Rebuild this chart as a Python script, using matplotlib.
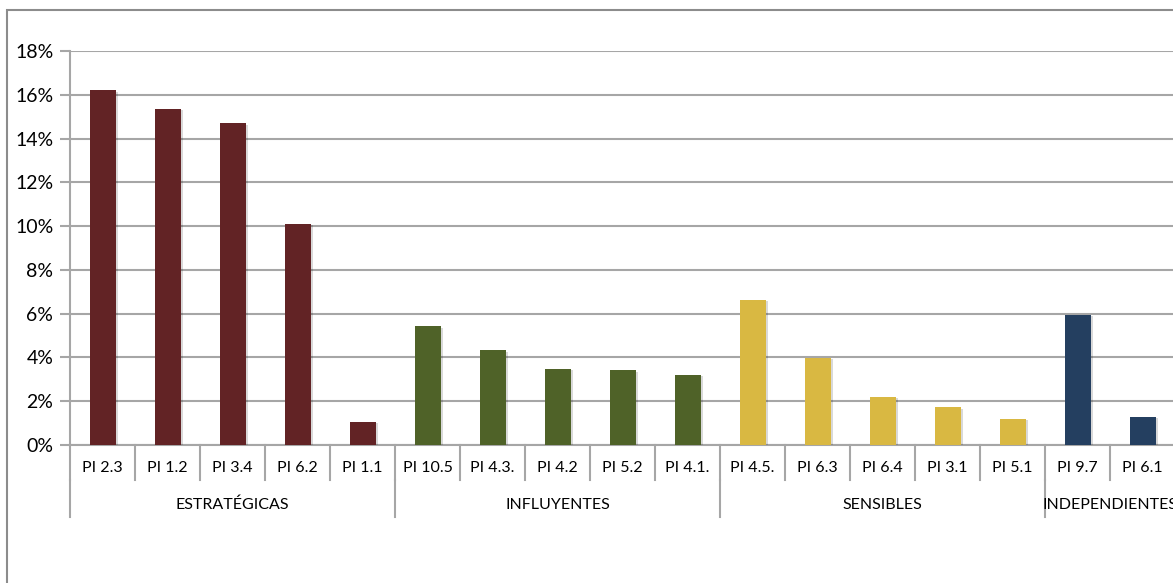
import matplotlib
matplotlib.use("Agg")
import matplotlib.pyplot as plt
import matplotlib.patheffects as pe
from matplotlib.patches import Rectangle
from matplotlib.ticker import FuncFormatter

# data (percent)
labels = ["PI 2.3", "PI 1.2", "PI 3.4", "PI 6.2", "PI 1.1",
          "PI 10.5", "PI 4.3.", "PI 4.2", "PI 5.2", "PI 4.1.",
          "PI 4.5.", "PI 6.3", "PI 6.4", "PI 3.1", "PI 5.1",
          "PI 9.7", "PI 6.1"]
values = [16.2, 15.35, 14.7, 10.1, 1.05,
          5.43, 4.33, 3.47, 3.42, 3.2,
          6.62, 3.99, 2.19, 1.73, 1.19,
          5.95, 1.29]
groups = ["ESTRATÉGICAS", "INFLUYENTES", "SENSIBLES", "INDEPENDIENTES"]
group_sizes = [5, 5, 5, 2]
group_colors = ["#622325", "#4F6228", "#D9B842", "#243F60"]

plt.rcParams["font.family"] = ["Lato", "DejaVu Sans"]

W, H = 1173, 583
fig = plt.figure(figsize=(W / 100, H / 100), dpi=100)
ax = fig.add_axes([70 / W, (H - 445) / H, 1105 / W, 394 / H])

colors = []
for c, n in zip(group_colors, group_sizes):
    colors += [c] * n

x = list(range(len(labels)))
bars = ax.bar(x, values, width=0.4, color=colors, zorder=3)
for b in bars:
    b.set_path_effects([pe.SimplePatchShadow(offset=(2, -1), alpha=0.15, shadow_rgbFace="#000000"),
                        pe.Normal()])

ax.set_xlim(-0.5, len(labels) - 0.5)
ax.set_ylim(0, 18)
ax.set_yticks(range(0, 19, 2))
ax.yaxis.set_major_formatter(FuncFormatter(lambda v, p: f"{int(v)}%"))
ax.grid(axis="y", color="#A6A6A6", linewidth=1.5, zorder=0)
ax.tick_params(axis="y", length=7, width=1.5, color="#A6A6A6", labelsize=14, pad=5)
ax.set_xticks([])
for s in ["top", "right"]:
    ax.spines[s].set_visible(False)
ax.spines["left"].set_color("#A6A6A6")
ax.spines["left"].set_linewidth(1.5)
ax.spines["bottom"].set_color("#A6A6A6")
ax.spines["bottom"].set_linewidth(1.5)

tr = ax.get_xaxis_transform()
leaf_bottom = -35 / 394
group_bottom = -72 / 394

# leaf separators and labels
for i in range(len(labels) + 1):
    ax.plot([i - 0.5, i - 0.5], [0, leaf_bottom], transform=tr, color="#A6A6A6",
            linewidth=1.5, clip_on=False)
for i, lab in enumerate(labels):
    ax.text(i, -23 / 394, lab, transform=tr, ha="center", va="center", fontsize=11.5)

# group separators and labels
start = 0
edges = [0]
for g, n in zip(groups, group_sizes):
    ax.text(start + n / 2 - 0.5, -60 / 394, g, transform=tr, ha="center", va="center",
            fontsize=11.5)
    start += n
    edges.append(start)
for e in edges:
    ax.plot([e - 0.5, e - 0.5], [leaf_bottom, group_bottom], transform=tr, color="#A6A6A6",
            linewidth=1.5, clip_on=False)

# outer chart border
fig.patches.append(Rectangle((7 / W, -0.1), 1.2, (H - 10) / H + 0.1, transform=fig.transFigure,
                             fill=False, edgecolor="#8C8C8C", linewidth=1.5))

fig.savefig("out.png", dpi=100)
